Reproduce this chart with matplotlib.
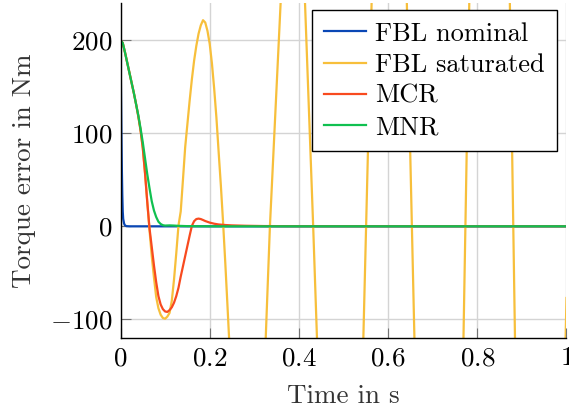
import matplotlib
matplotlib.use("Agg")
import matplotlib.pyplot as plt

# FBL nominal
t_nom = [0, 0.001, 0.002, 0.003, 0.004, 0.005, 0.006, 0.008, 0.010, 0.013, 0.020, 1.0]
e_nom = [200, 150, 100, 62, 34, 16, 8, 3, 1, 0.2, 0, 0]

# FBL saturated
t_sat = [0, 0.005, 0.010, 0.015, 0.020, 0.025, 0.030, 0.035, 0.040, 0.045,
         0.050, 0.055, 0.060, 0.065, 0.070, 0.075, 0.080, 0.085, 0.090, 0.095,
         0.100, 0.105, 0.110, 0.115, 0.120, 0.125, 0.130, 0.135, 0.140, 0.145,
         0.150, 0.155, 0.160, 0.165, 0.170, 0.175, 0.180, 0.185, 0.190, 0.195,
         0.200, 0.205, 0.210, 0.215, 0.220, 0.225, 0.230, 0.235, 0.240, 0.245,
         0.280, 0.3256, 0.335, 0.359, 0.387, 0.4137, 0.432, 0.4405, 0.492,
         0.5445, 0.563, 0.602, 0.642, 0.659, 0.714, 0.769, 0.782, 0.828,
         0.873, 0.8845, 0.940, 0.998, 1.0]
e_sat = [200, 197, 187, 176, 165, 154, 143, 131, 118, 103,
         84, 57, 26, -4, -32, -55, -76, -88, -95, -98.5,
         -99.3, -97, -93, -80, -57, -29, 1, 16, 50, 85,
         110, 135, 158, 178, 194, 207, 216, 221.5, 219, 210,
         196, 175, 148, 117, 80, 44, 4, -40, -87, -135,
         -400, -120, 0, 240, 450, 240, 0, -120, -650,
         -120, 240, 900, 240, -120, -1200, -120, 240, 1500,
         240, -120, -2000, -120, -77]

# MCR
t_mcr = [0, 0.005, 0.010, 0.015, 0.020, 0.025, 0.030, 0.035, 0.040, 0.045,
         0.050, 0.055, 0.060, 0.065, 0.070, 0.075, 0.080, 0.085, 0.090, 0.095,
         0.100, 0.105, 0.110, 0.115, 0.120, 0.125, 0.130, 0.135, 0.140, 0.145,
         0.150, 0.155, 0.160, 0.165, 0.170, 0.175, 0.180, 0.185, 0.190, 0.200,
         0.210, 0.220, 0.235, 0.250, 0.280, 0.320, 0.400, 1.0]
e_mcr = [200, 197, 187, 176, 165, 154, 143, 131, 118, 103,
         84, 57, 26, -2, -22, -42, -60, -75, -84, -89,
         -91.5, -92, -90, -87, -82, -75, -66, -54, -43, -32,
         -21, -10, 0.5, 5.5, 7.8, 8.3, 7.8, 6.8, 5.7, 4,
         2.8, 2, 1.4, 1, 0.6, 0.3, 0.1, 0]

# MNR
t_mnr = [0, 0.005, 0.010, 0.015, 0.020, 0.025, 0.030, 0.035, 0.040, 0.045,
         0.050, 0.055, 0.060, 0.065, 0.070, 0.075, 0.080, 0.085, 0.090, 0.095,
         0.100, 0.110, 0.120, 0.130, 0.150, 0.200, 1.0]
e_mnr = [200, 197, 187, 176, 165, 154, 143, 131, 119, 105,
         90, 73, 56, 41, 27, 17, 10, 5, 2.5, 1.2,
         0.8, 1, 0.8, 0.5, 0.2, 0, 0]

xticks = [0, 0.2, 0.4, 0.6, 0.8, 1]
xticklabels = ["$0$", "$0.2$", "$0.4$", "$0.6$", "$0.8$", "$1$"]
yticks = [-100, 0, 100, 200]
yticklabels = ["$-100$", "$0$", "$100$", "$200$"]

plt.rcParams["font.family"] = "serif"
plt.rcParams["font.serif"] = ["cmr10"]
plt.rcParams["mathtext.fontset"] = "cm"
plt.rcParams["axes.unicode_minus"] = True

fs = 19.5

fig = plt.figure(figsize=(5.69, 4.09), dpi=100)
ax = fig.add_axes([0.2118, 0.1736, 0.7838, 0.8191])

ax.plot(t_nom, e_nom, color="#0a47b5", lw=1.6, label="FBL nominal")
ax.plot(t_sat, e_sat, color="#f7bf3b", lw=1.6, label="FBL saturated")
ax.plot(t_mcr, e_mcr, color="#f84a1f", lw=1.6, label="MCR")
ax.plot(t_mnr, e_mnr, color="#10c050", lw=1.6, label="MNR")

ax.set_xlim(0, 1)
ax.set_ylim(-120, 240)
ax.set_xticks(xticks)
ax.set_xticklabels(xticklabels)
ax.set_yticks(yticks)
ax.set_yticklabels(yticklabels)
ax.tick_params(direction="in", length=7, width=0.8, color="0.45",
               labelsize=fs, pad=6)
ax.grid(True, color="#d4d4d4", lw=1)
ax.set_axisbelow(True)
for s in ["top", "right"]:
    ax.spines[s].set_visible(False)
for s in ["left", "bottom"]:
    ax.spines[s].set_linewidth(1.0)

ax.set_xlabel("Time in s", fontsize=fs, color="0.2", labelpad=10)
ax.set_ylabel("Torque error in Nm", fontsize=fs, color="0.2", labelpad=10)

leg = ax.legend(loc="upper right", bbox_to_anchor=(0.978, 0.979),
                borderaxespad=0, fontsize=19, fancybox=False,
                framealpha=1, edgecolor="black", handlelength=1.6,
                handletextpad=0.35, labelspacing=0.28, borderpad=0.45)
leg.get_frame().set_linewidth(1.0)

fig.savefig("out.png", dpi=100)
